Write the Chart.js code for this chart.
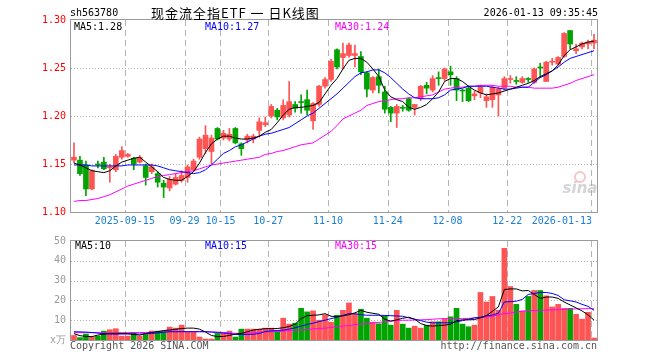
<!DOCTYPE html>
<html>
<head>
<meta charset="utf-8">
<script src="https://cdn.jsdelivr.net/npm/chart.js@4.4.1/dist/chart.umd.min.js"></script>
<style>
body { margin: 0; background: #fff; }
#wrap { position: relative; width: 660px; height: 360px; background: #fff; }
canvas { position: absolute; left: 0; }
#kline { top: 0; }
#vol { top: 230px; }
</style>
</head>
<body>
<div id="wrap">
<canvas id="kline" width="660" height="230"></canvas>
<canvas id="vol" width="660" height="130"></canvas>
</div>
<script>
// trading days shown
const dates = [
  '2025-09-02','2025-09-03','2025-09-04','2025-09-05','2025-09-08','2025-09-09','2025-09-10','2025-09-11','2025-09-12',
  '2025-09-15','2025-09-16','2025-09-17','2025-09-18','2025-09-19','2025-09-22','2025-09-23','2025-09-24','2025-09-25',
  '2025-09-26','2025-09-29','2025-09-30',
  '2025-10-09','2025-10-10','2025-10-13','2025-10-14','2025-10-15','2025-10-16','2025-10-17','2025-10-20','2025-10-21',
  '2025-10-22','2025-10-23','2025-10-24','2025-10-27','2025-10-28','2025-10-29','2025-10-30','2025-10-31',
  '2025-11-03','2025-11-04','2025-11-05','2025-11-06','2025-11-07','2025-11-10','2025-11-11','2025-11-12','2025-11-13',
  '2025-11-14','2025-11-17','2025-11-18','2025-11-19','2025-11-20','2025-11-21','2025-11-24','2025-11-25','2025-11-26',
  '2025-11-27','2025-11-28',
  '2025-12-01','2025-12-02','2025-12-03','2025-12-04','2025-12-05','2025-12-08','2025-12-09','2025-12-10','2025-12-11',
  '2025-12-12','2025-12-15','2025-12-16','2025-12-17','2025-12-18','2025-12-19','2025-12-22','2025-12-23','2025-12-24',
  '2025-12-25','2025-12-26','2025-12-29','2025-12-30','2025-12-31',
  '2026-01-05','2026-01-06','2026-01-07','2026-01-08','2026-01-09','2026-01-12','2026-01-13'
];

const opens = [1.154,1.154,1.149,1.124,1.150,1.152,1.146,1.144,1.157,1.158, 1.156,1.152,1.148,1.142,1.140,1.130,1.125,1.129,1.133,1.136,
  1.144,1.157,1.166,1.163,1.187,1.177,1.176,1.187,1.171,1.175, 1.176,1.185,1.191,1.200,1.206,1.198,1.201,1.212,1.215,1.217,
  1.195,1.212,1.231,1.238,1.269,1.261,1.263,1.263,1.262,1.245, 1.227,1.241,1.225,1.209,1.203,1.209,1.218,1.209,1.218,1.232,
  1.227,1.240,1.239,1.246,1.239,1.227,1.229,1.221,1.224,1.216, 1.217,1.222,1.229,1.238,1.237,1.235,1.239,1.235,1.251,1.236,
  1.256,1.254,1.262,1.289,1.268,1.272,1.275,1.276];
const highs = [1.172,1.158,1.153,1.144,1.153,1.157,1.150,1.160,1.168,1.161, 1.157,1.159,1.150,1.150,1.142,1.133,1.137,1.140,1.143,1.149,
  1.155,1.178,1.190,1.180,1.188,1.185,1.187,1.188,1.172,1.181, 1.181,1.198,1.199,1.212,1.208,1.217,1.236,1.215,1.222,1.227,
  1.214,1.232,1.240,1.259,1.270,1.276,1.276,1.274,1.267,1.246, 1.241,1.249,1.231,1.210,1.212,1.211,1.219,1.212,1.232,1.235,
  1.242,1.246,1.250,1.252,1.241,1.228,1.231,1.226,1.232,1.223, 1.232,1.230,1.241,1.242,1.241,1.241,1.240,1.250,1.255,1.257,
  1.260,1.262,1.287,1.289,1.275,1.277,1.279,1.285];
const lows = [1.151,1.138,1.117,1.123,1.146,1.144,1.131,1.142,1.155,1.157, 1.144,1.151,1.128,1.140,1.126,1.115,1.122,1.128,1.131,1.131,
  1.142,1.155,1.161,1.150,1.175,1.175,1.174,1.171,1.159,1.172, 1.172,1.178,1.189,1.198,1.196,1.196,1.199,1.204,1.203,1.201,
  1.186,1.210,1.229,1.236,1.249,1.249,1.261,1.251,1.243,1.220, 1.224,1.224,1.203,1.194,1.188,1.205,1.205,1.201,1.216,1.223,
  1.225,1.232,1.237,1.232,1.216,1.215,1.215,1.217,1.219,1.209, 1.209,1.200,1.227,1.234,1.233,1.234,1.235,1.234,1.240,1.236,
  1.253,1.253,1.261,1.270,1.265,1.270,1.270,1.270];
const closes = [1.157,1.140,1.124,1.143,1.149,1.145,1.147,1.158,1.164,1.160, 1.150,1.157,1.136,1.147,1.131,1.126,1.134,1.136,1.138,1.147,
  1.153,1.176,1.180,1.177,1.176,1.182,1.181,1.172,1.166,1.179, 1.179,1.194,1.193,1.210,1.199,1.211,1.215,1.208,1.214,1.206,
  1.213,1.231,1.238,1.257,1.251,1.265,1.274,1.265,1.246,1.228, 1.240,1.232,1.207,1.203,1.210,1.208,1.206,1.212,1.231,1.229,
  1.239,1.239,1.249,1.243,1.227,1.226,1.216,1.223,1.230,1.220, 1.230,1.228,1.239,1.239,1.236,1.239,1.238,1.249,1.250,1.256,
  1.257,1.261,1.286,1.275,1.270,1.276,1.277,1.279];

const ma5 = [1.151,1.149,1.146,1.143,1.142,1.141,1.143,1.148,1.152,1.154, 1.156,1.157,1.152,1.147,1.142,1.136,1.134,1.133,1.133,1.137,
  1.142,1.151,1.162,1.171,1.176,1.179,1.179,1.177,1.176,1.176, 1.177,1.179,1.183,1.186,1.193,1.201,1.207,1.209,1.209,1.210,
  1.211,1.214,1.223,1.232,1.239,1.249,1.258,1.260,1.260,1.256, 1.249,1.241,1.227,1.220,1.217,1.215,1.209,1.207,1.209,1.212,
  1.218,1.225,1.236,1.239,1.239,1.236,1.231,1.227,1.224,1.222, 1.223,1.224,1.226,1.228,1.230,1.232,1.234,1.237,1.241,1.244,
  1.247,1.253,1.263,1.269,1.272,1.275,1.277,1.278];
const ma10 = [1.149,1.149,1.149,1.148,1.148,1.148,1.148,1.148,1.148,1.149, 1.149,1.149,1.149,1.149,1.148,1.146,1.144,1.143,1.142,1.141,
  1.140,1.141,1.144,1.149,1.155,1.161,1.164,1.168,1.170,1.173, 1.176,1.179,1.181,1.182,1.184,1.186,1.188,1.192,1.196,1.200,
  1.203,1.208,1.213,1.218,1.223,1.229,1.235,1.241,1.245,1.246, 1.248,1.248,1.245,1.240,1.234,1.228,1.223,1.219,1.218,1.218,
  1.218,1.219,1.222,1.227,1.228,1.229,1.231,1.231,1.231,1.231, 1.230,1.229,1.228,1.228,1.229,1.230,1.230,1.235,1.240,1.243,
  1.247,1.251,1.256,1.260,1.262,1.264,1.266,1.268];
const ma30 = [1.111,1.112,1.112,1.113,1.114,1.116,1.118,1.121,1.124,1.127, 1.129,1.131,1.133,1.135,1.137,1.138,1.139,1.140,1.141,1.142,
  1.143,1.145,1.147,1.149,1.150,1.151,1.152,1.153,1.154,1.155, 1.156,1.157,1.160,1.161,1.163,1.164,1.166,1.168,1.170,1.171,
  1.172,1.176,1.180,1.184,1.190,1.197,1.200,1.203,1.206,1.211, 1.213,1.215,1.216,1.217,1.218,1.218,1.219,1.219,1.220,1.221,
  1.222,1.225,1.228,1.229,1.230,1.230,1.231,1.231,1.232,1.232, 1.232,1.231,1.231,1.231,1.230,1.230,1.230,1.229,1.229,1.229,
  1.229,1.230,1.232,1.234,1.237,1.239,1.241,1.243];

// volume, 万
const volumes = [2.3,1.2,3,1.7,2,4.5,5.2,5.7,2,2, 3.7,2,2.8,4.5,4.5,4.5,6.5,6,7.5,4, 4,1.5,0.5,0.5,3.3,3.5,4.5,1.5,5.5,5.5,
  5.5,5.5,6,6,4.5,11,8,8.5,16,14.2, 14.7,10,12.7,9,12.5,15,18.7,13.3,15.5,11, 9,8.2,12.2,7.5,15,8,6,7,6,7.5,
  9.2,9.2,10.7,11.7,16,8,6.7,7.5,24,19.2, 22,15,46.3,27,18,14.7,22,25,25,22.3, 16.7,18,16,16,13,10.5,14,1];
const volMa5 = [3.2,2.2,1.8,1.7,2.5,3,3.3,3.3,3.3,3.3, 2.8,2.5,3.3,3.8,4.2,4.8,5,5.4,5.8,6, 6,5.5,4,2.3,1.7,1.8,2.3,3,3.3,4.2,
  5,5.4,5.7,5.7,5.8,6.2,6.8,8,10.8,12.3, 12.5,12.7,13.3,12,11.8,12.2,12.8,13.7,15,14, 13.5,13,10.5,9.5,10.2,11,11.5,10.5,8.3,7.3,
  7,7.3,7.5,8,9.7,10.2,10.2,10.3,11.2,12.3, 14.5,16.7,25.5,25.8,25.8,24.8,25,23,21,21.7, 21.7,21,19.2,17.7,16.2,14.7,12.7,10];
const volMa10 = [4.2,4.1,4.0,3.8,3.5,3.1,3,3,3,3, 3,3,3.1,3.3,3.6,3.9,4.2,4.2,4.2,4.2, 4.2,4.2,4.2,4.0,3.8,3.5,3.2,2.8,2.8,2.8,
  2.9,3.3,4.3,4.6,4.8,5,5.5,6.2,7,7.8, 8.5,9.3,10,10.8,11.5,12.5,13.3,13.2,12.8,12.5, 12.5,12.5,12.4,12.3,12.1,12,11.2,10.5,9.8,9,
  8.7,8.7,8.7,8.7,9.2,9.8,10.5,11.2,11.5,12.2, 12.6,13.5,19.2,19.4,19.6,20.5,23,23.5,24,24, 23.5,22.5,20.3,19.8,19.2,18,17,15];
const volMa30 = [3.7,3.7,3.7,3.7,3.7,3.7,3.7,3.7,3.7,3.7, 3.8,3.8,3.8,3.9,4,4.1,4.2,4.2,4.2,4.2, 4.2,4.2,4.2,4.1,4.0,3.8,3.6,3.4,3.3,3.5,
  3.7,3.9,4.1,4.2,4.3,4.5,4.7,4.9,5.0,5.3, 5.6,5.8,6.0,6.3,6.8,7.0,7.3,7.8,8.0,8.3, 8.6,8.9,9.2,9.6,9.8,10,10,10.1,10.2,10.3,
  10.5,10.7,10.8,10.8,10.8,10.8,10.9,11.1,11.3,11.6, 12,12.8,13.3,13.6,14.1,14.5,14.7,14.9,15.0,15.1, 15.2,15.3,15.5,15.6,15.7,15.8,15.8,15.8];

const tickDates = ['2025-09-15','2025-09-29','2025-10-15','2025-10-27','2025-11-10','2025-11-24','2025-12-08','2025-12-22','2026-01-13'];
const tickTexts = ['2025-09-15','09-29','10-15','10-27','11-10','11-24','12-08','12-22','2026-01-13'];
const priceTicks = [1.10, 1.15, 1.20, 1.25, 1.30];
const volTicks = [0, 10, 20, 30, 40, 50];

const RED = '#ff5454';
const GREEN = '#00a300';
const MONO = '"DejaVu Sans Mono", "Liberation Mono", monospace';
const tickIdx = tickDates.map(d => dates.indexOf(d));
const isUp = i => closes[i] >= opens[i];
const candleColor = c => isUp(c.dataIndex) ? RED : GREEN;

Chart.defaults.font.family = MONO;
Chart.defaults.font.size = 10;
Chart.defaults.animation = false;

function drawGrid(chart, values) {
  const { ctx, chartArea: a, scales: { x, y } } = chart;
  ctx.save();
  ctx.strokeStyle = '#b4b4b4';
  ctx.lineWidth = 1;
  ctx.setLineDash([1, 2]);
  values.forEach(v => {
    const py = Math.round(y.getPixelForValue(v)) + 0.5;
    if (py <= a.top + 1 || py >= a.bottom - 1) return;
    ctx.beginPath(); ctx.moveTo(a.left, py); ctx.lineTo(a.right, py); ctx.stroke();
  });
  ctx.setLineDash([6, 4]);
  const half = (x.getPixelForValue(1) - x.getPixelForValue(0)) / 2;
  tickIdx.forEach(i => {
    const px = Math.round(x.getPixelForValue(i) - half) + 0.5;
    ctx.beginPath(); ctx.moveTo(px, a.top); ctx.lineTo(px, a.bottom); ctx.stroke();
  });
  ctx.restore();
}

function drawFrame(chart) {
  const { ctx, chartArea: a } = chart;
  ctx.save();
  ctx.strokeStyle = '#9a9a9a';
  ctx.lineWidth = 1;
  ctx.strokeRect(a.left - 0.5, a.top - 0.5, a.right - a.left + 1, a.bottom - a.top + 1);
  ctx.restore();
}

function drawText(ctx, txt, x, y, color, font, align) {
  ctx.fillStyle = color;
  ctx.font = font;
  ctx.textAlign = align || 'left';
  ctx.textBaseline = 'middle';
  ctx.fillText(txt, x, y);
}

const klineDeco = {
  id: 'klineDeco',
  beforeDatasetsDraw(chart) { drawGrid(chart, priceTicks); },
  afterDraw(chart) {
    const { ctx, chartArea: a, scales: { x } } = chart;
    drawFrame(chart);
    ctx.save();
    drawText(ctx, 'sh563780', 70, 13, '#000', '10px ' + MONO);
    ctx.letterSpacing = '1px';
    drawText(ctx, '现金流全指ETF 一 日K线图', 151, 13, '#000', '13px "Noto Sans CJK SC"');
    ctx.letterSpacing = '0px';
    drawText(ctx, '2026-01-13 09:35:45', 598, 13, '#000', '10px ' + MONO, 'right');
    drawText(ctx, 'MA5:' + ma5[ma5.length - 1].toFixed(2), 74, 27, '#000', '10px ' + MONO);
    drawText(ctx, 'MA10:' + ma10[ma10.length - 1].toFixed(2), 205, 27, '#0000ff', '10px ' + MONO);
    drawText(ctx, 'MA30:' + ma30[ma30.length - 1].toFixed(2), 335, 27, '#ff00ff', '10px ' + MONO);
    // date labels under the price panel
    const half = (x.getPixelForValue(1) - x.getPixelForValue(0)) / 2;
    ctx.font = '10px ' + MONO;
    tickIdx.forEach((i, n) => {
      const t = tickTexts[n];
      const w = ctx.measureText(t).width;
      let cx = x.getPixelForValue(i) - half;
      cx = Math.min(cx, a.right - 5 - w / 2);
      drawText(ctx, t, cx, 221, '#1a7fd4', '10px ' + MONO, 'center');
    });
    // sina watermark
    ctx.globalAlpha = 0.45;
    ctx.strokeStyle = '#f08080';
    ctx.lineWidth = 2;
    ctx.beginPath(); ctx.arc(580, 177, 5, 0, Math.PI * 2); ctx.stroke();
    drawText(ctx, 'sina', 580, 189, '#a0a0a0', 'italic bold 15px "DejaVu Sans"', 'center');
    ctx.restore();
  }
};

const volDeco = {
  id: 'volDeco',
  beforeDatasetsDraw(chart) { drawGrid(chart, volTicks); },
  afterDraw(chart) {
    const { ctx } = chart;
    drawFrame(chart);
    ctx.save();
    drawText(ctx, 'MA5:' + Math.floor(volMa5[volMa5.length - 1]), 75, 16, '#000', '10px ' + MONO);
    drawText(ctx, 'MA10:' + Math.floor(volMa10[volMa10.length - 1]), 205, 16, '#0000ff', '10px ' + MONO);
    drawText(ctx, 'MA30:' + Math.floor(volMa30[volMa30.length - 1]), 335, 16, '#ff00ff', '10px ' + MONO);
    drawText(ctx, 'Copyright 2026 SINA.COM', 70, 116, '#555', '10px ' + MONO);
    drawText(ctx, 'http://finance.sina.com.cn', 597, 116, '#555', '10px ' + MONO, 'right');
    ctx.restore();
  }
};

function maLine(label, data, color) {
  return { type: 'line', label, data, borderColor: color, borderWidth: 1, pointRadius: 0, tension: 0, order: 0 };
}

new Chart(document.getElementById('kline'), {
  type: 'bar',
  data: {
    labels: dates,
    datasets: [
      maLine('MA5', ma5, '#000000'),
      maLine('MA10', ma10, '#0000ff'),
      maLine('MA30', ma30, '#ff00ff'),
      {
        label: 'body',
        data: dates.map((d, i) => [opens[i], closes[i]]),
        backgroundColor: candleColor,
        barThickness: 5,
        minBarLength: 1,
        grouped: false,
        order: 1
      },
      {
        label: 'wick',
        data: dates.map((d, i) => [lows[i], highs[i]]),
        backgroundColor: candleColor,
        barThickness: 1,
        grouped: false,
        order: 2
      }
    ]
  },
  options: {
    responsive: false,
    devicePixelRatio: 1,
    layout: { padding: { left: 0, right: 63, top: 20, bottom: 18 } },
    plugins: { legend: { display: false }, tooltip: { enabled: false } },
    scales: {
      x: { display: false, offset: true },
      y: {
        min: 1.10, max: 1.30,
        afterFit(s) { s.width = 71; },
        afterBuildTicks(s) { s.ticks = priceTicks.map(v => ({ value: v })); },
        ticks: { color: '#ff0000', padding: 5, callback: v => Number(v).toFixed(2) },
        grid: { display: false, drawTicks: false },
        border: { display: false }
      }
    }
  },
  plugins: [klineDeco]
});

new Chart(document.getElementById('vol'), {
  type: 'bar',
  data: {
    labels: dates,
    datasets: [
      maLine('MA5', volMa5, '#000000'),
      maLine('MA10', volMa10, '#0000ff'),
      maLine('MA30', volMa30, '#ff00ff'),
      {
        label: 'volume',
        data: volumes,
        backgroundColor: candleColor,
        barThickness: 5,
        grouped: false,
        order: 1
      }
    ]
  },
  options: {
    responsive: false,
    devicePixelRatio: 1,
    layout: { padding: { left: 0, right: 63, top: 10, bottom: 20 } },
    plugins: { legend: { display: false }, tooltip: { enabled: false } },
    scales: {
      x: { display: false, offset: true },
      y: {
        min: 0, max: 50,
        afterFit(s) { s.width = 71; },
        afterBuildTicks(s) { s.ticks = volTicks.map(v => ({ value: v })); },
        ticks: { color: '#9a9a9a', padding: 5, callback: v => v === 0 ? 'x万' : v },
        grid: { display: false, drawTicks: false },
        border: { display: false }
      }
    }
  },
  plugins: [volDeco]
});
</script>
</body>
</html>
